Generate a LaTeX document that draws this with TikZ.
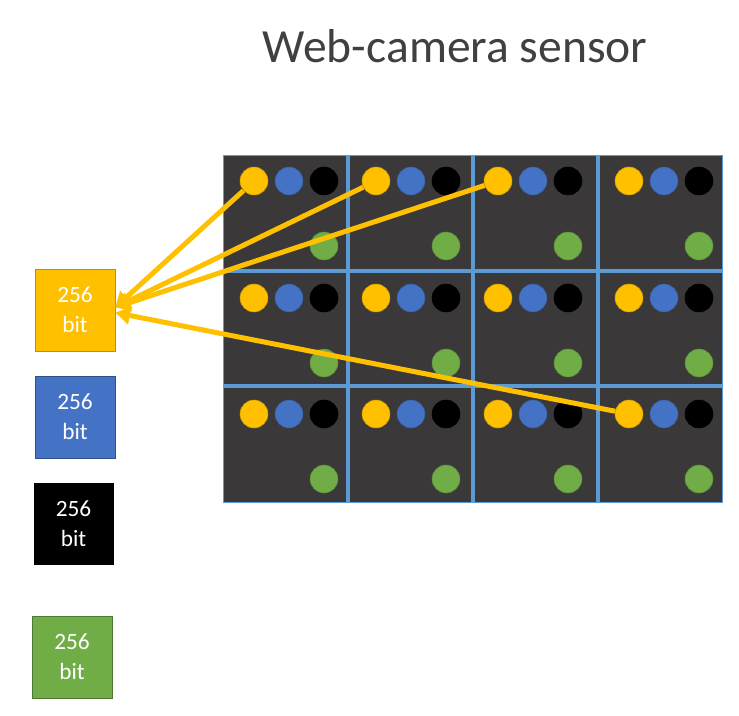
\documentclass[tikz,border=0pt]{standalone}
\usepackage{fontspec}
\setmainfont{Carlito}
\usepackage{xcolor}
\usetikzlibrary{arrows.meta,positioning}
\definecolor{pixyellow}{RGB}{255,192,0}
\definecolor{pixblue}{RGB}{68,114,196}
\definecolor{pixgreen}{RGB}{112,173,71}
\definecolor{sensorgrey}{RGB}{58,56,56}
\definecolor{gridblue}{RGB}{91,155,213}
\definecolor{titlegrey}{RGB}{64,64,64}

\begin{document}
\begin{tikzpicture}[x=0.75pt, y=-0.75pt,
    dot/.style={circle, minimum size=21pt, inner sep=0pt, draw=#1!80!black,
        line width=0.4pt, fill=#1},
    bitbox/.style={rectangle, minimum width=60pt, minimum height=61.5pt,
        inner sep=0pt, text=white, align=center, line width=0.6pt,
        font=\fontsize{17.5}{22.5}\selectfont},
    sensor/.style={rectangle, fill=sensorgrey, draw=gridblue, line width=0.6pt,
        minimum width=374.25pt, minimum height=260.25pt, inner sep=0pt},
    gridline/.style={gridblue, line width=3pt},
    arr/.style={-{Triangle[length=11pt, width=13pt]}, pixyellow, line width=3.75pt}
]
    \useasboundingbox (0,0) rectangle (739,716);

    % ---- Title ----
    \node[font=\fontsize{35.7}{42}\selectfont, text=titlegrey] (title) at (455,46)
        {Web-camera sensor};

    % ---- Sensor (3 x 4 cells) ----
    \node[sensor] (sensor) at (472.5,328.5) {};
    \foreach \gx in {348,473,598}
        \draw[gridline] (\gx,155) -- (\gx,502);
    \foreach \gy in {271,386}
        \draw[gridline] (223,\gy) -- (722,\gy);

    % one yellow, blue, black and green pixel per cell
    \foreach \cx [count=\c] in {254,376,498,629}
      \foreach \cy [count=\r] in {181,298,414} {
        \node[dot=pixyellow] (y\r\c) at (\cx,\cy) {};
        \node[dot=pixblue]   (b\r\c) at (\cx+35,\cy) {};
        \node[dot=black]     (k\r\c) at (\cx+70,\cy) {};
        \node[dot=pixgreen]  (g\r\c) at (\cx+70,\cy+65) {};
      }

    % ---- Colour channel buffers ----
    \node[bitbox, fill=pixyellow, draw=pixyellow!75!black] (ybit) at (75,310) {256\\bit};
    \node[bitbox, fill=pixblue, draw=pixblue!70!black]     (bbit) at (75,417) {256\\bit};
    \node[bitbox, fill=black]                              (kbit) at (73.5,524) {256\\bit};
    \node[bitbox, fill=pixgreen, draw=pixgreen!70!black]   (gbit) at (72,657) {256\\bit};

    % yellow pixels collected into the yellow buffer
    \draw[arr] (y11) -- ([yshift=2pt]ybit.east);
    \draw[arr] (y12) -- ([yshift=2pt]ybit.east);
    \draw[arr] (y13) -- ([yshift=2pt]ybit.east);
    \draw[arr] (y34) -- ([yshift=-2pt]ybit.east);
\end{tikzpicture}
\end{document}
